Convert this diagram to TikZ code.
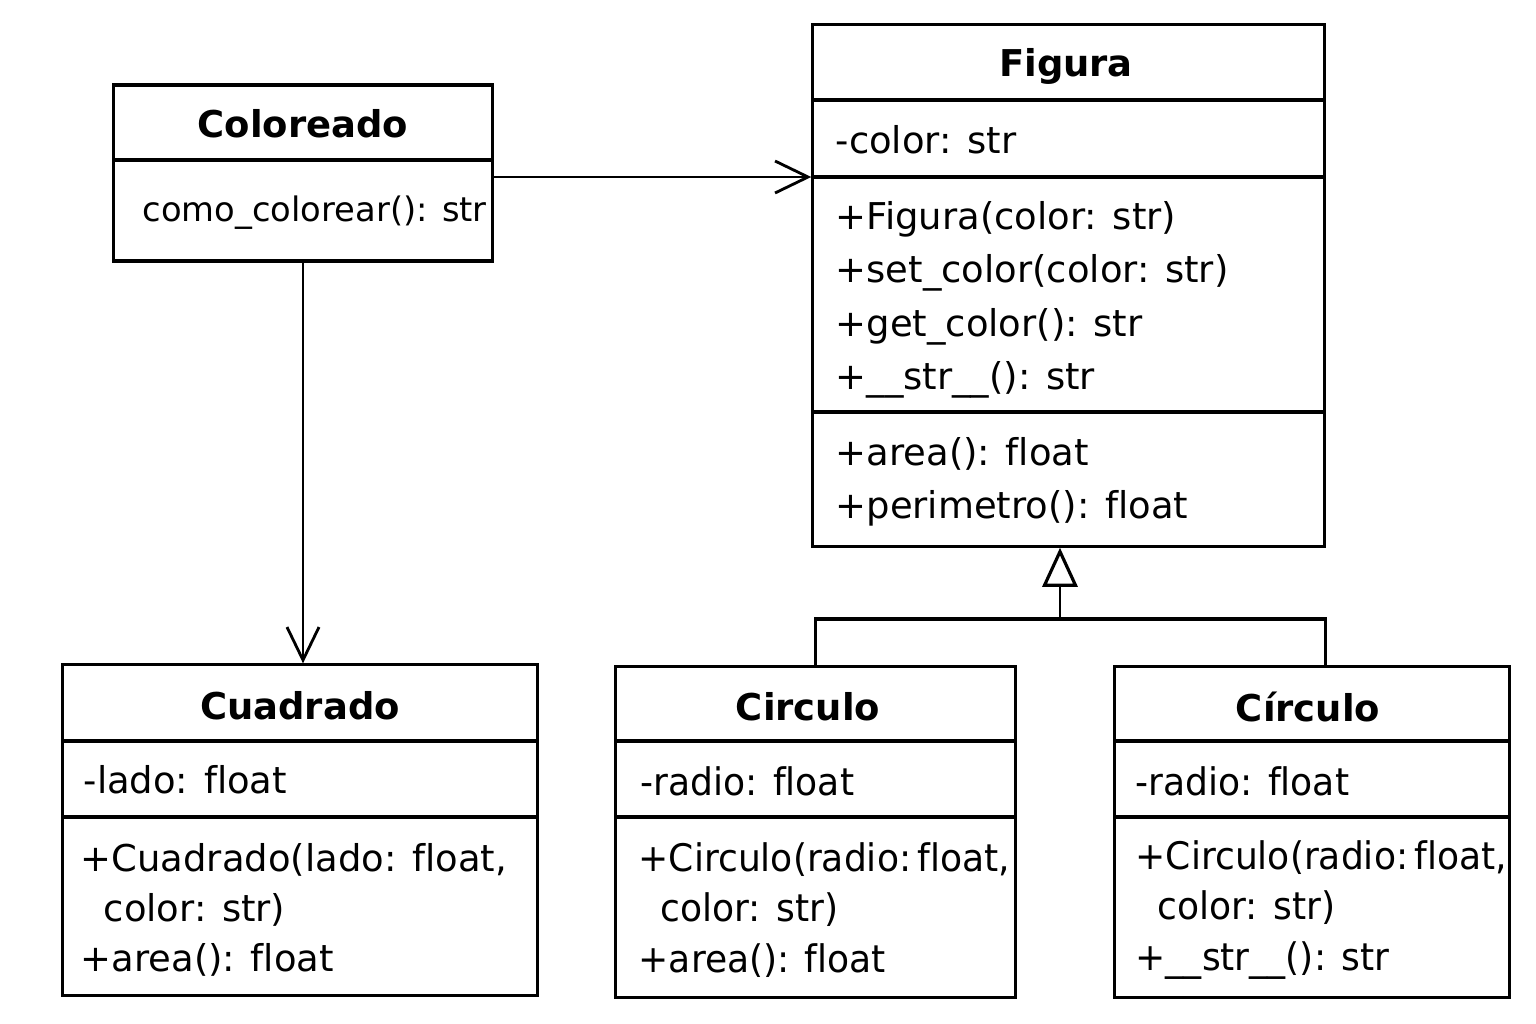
\documentclass[tikz,border=0pt]{standalone}
\usepackage{fontspec}
\setmainfont[Ligatures=CommonOff]{DejaVu Sans}
\newfontfamily\narrowfont[FakeStretch=0.95, Ligatures=CommonOff]{DejaVu Sans}
\usetikzlibrary{arrows.meta,positioning}

\begin{document}
\begin{tikzpicture}[x=0.01cm, y=-0.01cm,
  classbox/.style={draw, line width=0.9pt, inner sep=0pt},
  classname/.style={font=\fontsize{10.5}{12}\selectfont\bfseries},
  member/.style={anchor=west, inner sep=0pt, align=left, font=\fontsize{10.5}{15.2}\selectfont},
  divider/.style={line width=0.9pt},
  assoc/.style={line width=0.8pt, -{Straight Barb[length=3.3mm, width=3.2mm]}},
  generalization/.style={line width=0.7pt, -{Triangle[open, length=3.9mm, width=3.5mm, line width=0.9pt]}}
]
\useasboundingbox (0,0) rectangle (1536,1024);

% Coloreado
\node[classbox, minimum width=3.78cm, minimum height=1.76cm] (col) at (303,173) {};
\draw[divider] (col.west |- 0,160) -- (col.east |- 0,160);
\node[classname] (col-name) at (303,124) {Coloreado};
\node[member, font=\fontsize{9.6}{12}\selectfont] (col-ops) at (142,213) {como\_colorear(): str};

% Figura
\node[classbox, minimum width=5.11cm, minimum height=5.21cm] (fig) at (1068.5,285.5) {};
\draw[divider] (fig.west |- 0,100) -- (fig.east |- 0,100);
\draw[divider] (fig.west |- 0,177) -- (fig.east |- 0,177);
\draw[divider] (fig.west |- 0,412) -- (fig.east |- 0,412);
\coordinate (fig-attr) at (fig.west |- 0,177);
\node[classname] (fig-name) at (1066,66) {Figura};
\node[member] (fig-attrs) at (835,140) {-color: str};
\node[member] (fig-meths) at (835,300) {+Figura(color: str)\\+set\_color(color: str)\\+get\_color(): str\\+\_\_str\_\_(): str};
\node[member] (fig-ops) at (835,482) {+area(): float\\+perimetro(): float};

% Cuadrado
\node[classbox, minimum width=4.74cm, minimum height=3.30cm] (cua) at (300,830) {};
\draw[divider] (cua.west |- 0,741) -- (cua.east |- 0,741);
\draw[divider] (cua.west |- 0,817) -- (cua.east |- 0,817);
\node[classname] (cua-name) at (300,706) {Cuadrado};
\node[member] (cua-attrs) at (83,780) {-lado: float};
\node[member, font=\fontsize{10.5}{14.3}\selectfont] (cua-ops) at (80,910) {+Cuadrado(lado: float,\\\hspace*{0.23cm}color: str)\\+area(): float};

% Circulo
\node[classbox, minimum width=3.99cm, minimum height=3.30cm] (cir) at (815.5,832) {};
\draw[divider] (cir.west |- 0,741) -- (cir.east |- 0,741);
\draw[divider] (cir.west |- 0,817) -- (cir.east |- 0,817);
\node[classname] (cir-name) at (808,707) {Circulo};
\node[member, font=\fontsize{10.8}{14.3}\narrowfont] (cir-attrs) at (640,781) {-radio: float};
\node[member, font=\fontsize{10.8}{14.3}\narrowfont] (cir-ops) at (638,910) {+Circulo(radio:\,float,\\\hspace*{0.22cm}color: str)\\+area(): float};

% Circulo con tilde
\node[classbox, minimum width=3.94cm, minimum height=3.30cm] (cir2) at (1312,832) {};
\draw[divider] (cir2.west |- 0,741) -- (cir2.east |- 0,741);
\draw[divider] (cir2.west |- 0,817) -- (cir2.east |- 0,817);
\node[classname] (cir2-name) at (1308,707) {Círculo};
\node[member, font=\fontsize{10.8}{14.3}\narrowfont] (cir2-attrs) at (1135,781) {-radio: float};
\node[member, font=\fontsize{10.8}{14.3}\narrowfont] (cir2-ops) at (1135,910) {+Circulo(radio:\,float,\\\hspace*{0.22cm}color: str)\\+\_\_str\_\_(): str};

% relaciones
\draw[assoc] (col.east |- fig-attr) -- (fig-attr);
\draw[assoc] (col.south) -- (col.south |- cua.north);
\coordinate (gen) at (1060,619);
\draw[generalization] (gen) -- (gen |- fig.south);
\draw[line width=0.9pt] (cir.north) |- (fig.east |- gen) -- (fig.east |- cir2.north);
\end{tikzpicture}
\end{document}
